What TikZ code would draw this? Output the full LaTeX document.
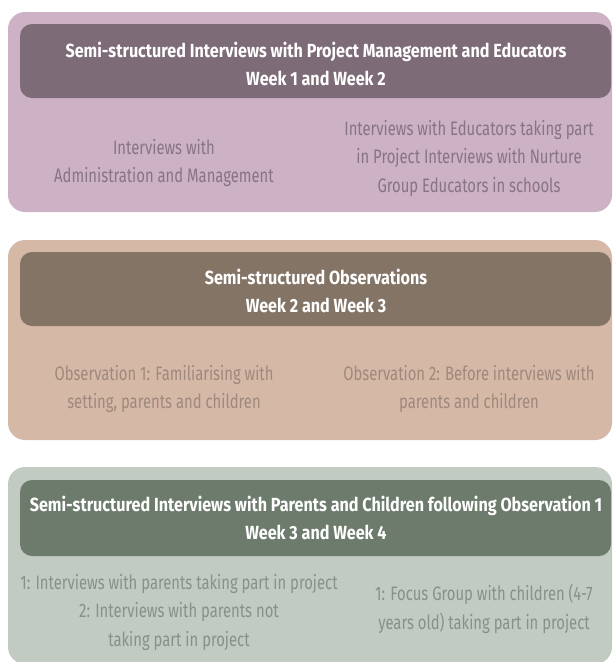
\documentclass[tikz,border=0pt]{standalone}
\usepackage{fontspec}
\setmainfont{Fira Sans}[FakeStretch=0.85]
\newfontfamily\bodyfont{Fira Sans}[FakeStretch=0.76]
\definecolor{boxA}{HTML}{CDB1C4}
\definecolor{headA}{HTML}{7D6B78}
\definecolor{txtA}{HTML}{877583}
\definecolor{boxB}{HTML}{D6B8A7}
\definecolor{headB}{HTML}{837466}
\definecolor{txtB}{HTML}{9E897C}
\definecolor{boxC}{HTML}{C1CBC2}
\definecolor{headC}{HTML}{6C7B6B}
\definecolor{txtC}{HTML}{889188}
\tikzset{
  outerbox/.style={rounded corners=17pt},
  headbox/.style={rounded corners=12pt},
  titletext/.style={text=white, align=center, font=\fontsize{19}{28.5}\selectfont\bfseries, inner sep=0pt},
  bodytext/.style={align=center, font=\bodyfont\fontsize{19.5}{28.5}\selectfont, inner sep=0pt}
}
\begin{document}
\begin{tikzpicture}[x=1pt,y=-1pt]
\useasboundingbox (0,0) rectangle (613,662);
% Box 1
\fill[boxA, outerbox] (8,12) rectangle (612,212);
\fill[headA, headbox] (20,24) rectangle (611,98);
\node[titletext] (t1) at (316,64) {Semi-structured Interviews with Project Management and Educators\\Week 1 and Week 2};
\node[bodytext, text=txtA] (l1) at (164,163) {Interviews with\\Administration and Management};
\node[bodytext, text=txtA] (r1) at (469,158) {Interviews with Educators taking part\\in Project Interviews with Nurture\\Group Educators in schools};
% Box 2
\fill[boxB, outerbox] (8,240) rectangle (612,440);
\fill[headB, headbox] (20,252) rectangle (611,326);
\node[titletext] (t2) at (316,291) {Semi-structured Observations\\Week 2 and Week 3};
\node[bodytext, text=txtB] (l2) at (164,389) {Observation 1: Familiarising with\\setting, parents and children};
\node[bodytext, text=txtB] (r2) at (469,389) {Observation 2: Before interviews with\\parents and children};
% Box 3
\fill[boxC, outerbox] (8,467) rectangle (612,664);
\fill[headC, headbox] (20,480) rectangle (611,556);
\node[titletext] (t3) at (316,518) {Semi-structured Interviews with Parents and Children following Observation 1\\Week 3 and Week 4};
\node[bodytext, text=txtC] (l3) at (179,612) {1: Interviews with parents taking part in project\\2: Interviews with parents not\\taking part in project};
\node[bodytext, text=txtC] (r3) at (484,609) {1: Focus Group with children (4-7\\years old) taking part in project};
\end{tikzpicture}
\end{document}
